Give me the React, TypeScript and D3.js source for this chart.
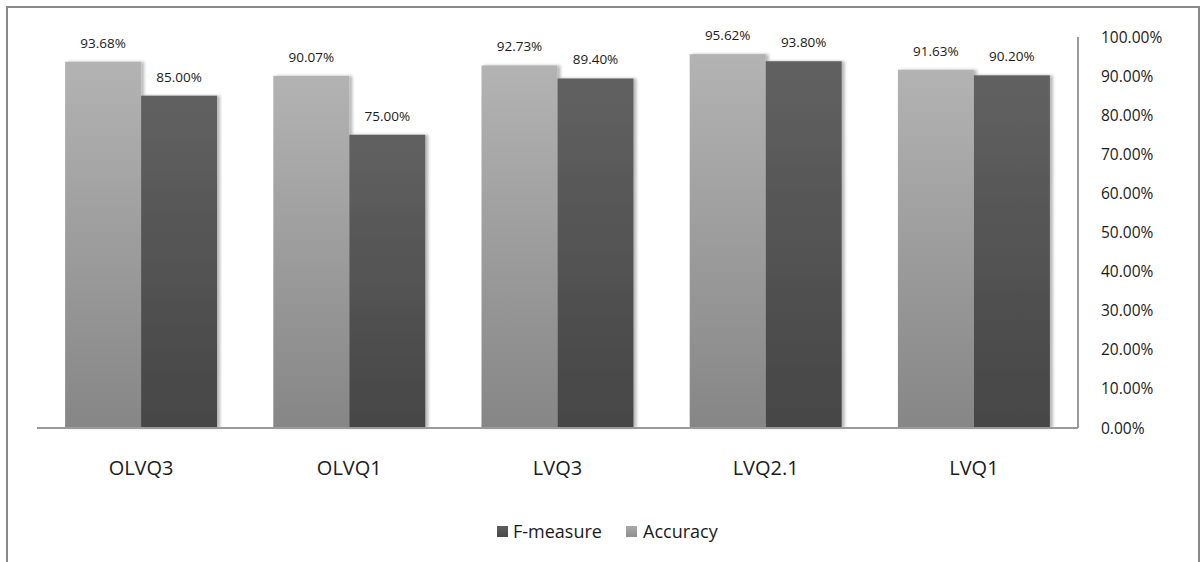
import React from "react";
import * as d3 from "d3";

const categories = ["OLVQ3", "OLVQ1", "LVQ3", "LVQ2.1", "LVQ1"];
const accuracy = [93.68, 90.07, 92.73, 95.62, 91.63];
const fMeasure = [85.0, 75.0, 89.4, 93.8, 90.2];
const yTicks = [0, 10, 20, 30, 40, 50, 60, 70, 80, 90, 100];

const series = [
  { key: "Accuracy", values: accuracy, grad: "gradAcc", top: "#b3b3b3", bottom: "#868686", legendTop: "#aaaaaa", legendBottom: "#8e8e8e" },
  { key: "F-measure", values: fMeasure, grad: "gradF", top: "#616161", bottom: "#464646", legendTop: "#5e5e5e", legendBottom: "#474747" },
];
const legendOrder = ["F-measure", "Accuracy"];

const W = 1203;
const H = 562;
const FONT = "'Open Sans', 'Liberation Sans', sans-serif";

export default function App() {
  const plotLeft = 37;
  const plotRight = 1078;
  const y = d3.scaleLinear().domain([0, 100]).range([428, 37]);
  const x0 = d3
    .scaleBand<string>()
    .domain(categories)
    .range([plotLeft, plotRight])
    .paddingInner(0.27)
    .paddingOuter(0.135);
  const x1 = d3
    .scaleBand<string>()
    .domain(series.map((s) => s.key))
    .range([0, x0.bandwidth()])
    .padding(0);

  const fmt = (v: number) => d3.format(".2f")(v) + "%";

  const legendItems = [
    { key: "F-measure", x: 497, textX: 513 },
    { key: "Accuracy", x: 626, textX: 643 },
  ];

  return (
    <svg
      width={W}
      height={H}
      style={{ position: "absolute", left: 0, top: 0, display: "block", background: "#fff" }}
      fontFamily={FONT}
    >
      <defs>
        {series.map((s) => (
          <linearGradient key={s.grad} id={s.grad} x1="0" y1="0" x2="0" y2="1">
            <stop offset="0%" stopColor={s.top} />
            <stop offset="100%" stopColor={s.bottom} />
          </linearGradient>
        ))}
        {series.map((s) => (
          <linearGradient key={s.grad + "L"} id={s.grad + "L"} x1="0" y1="0" x2="0" y2="1">
            <stop offset="0%" stopColor={s.legendTop} />
            <stop offset="100%" stopColor={s.legendBottom} />
          </linearGradient>
        ))}
        <filter id="barShadow" x="-10%" y="-5%" width="130%" height="110%">
          <feDropShadow dx="3" dy="0" stdDeviation="1.8" floodColor="#000" floodOpacity="0.28" />
        </filter>
      </defs>

      {/* chart frame */}
      <rect x={7} y={7} width={1192} height={H + 10} fill="none" stroke="#8a8a8a" strokeWidth={2} />

      {/* bars */}
      {categories.map((c, i) => (
        <g key={c} transform={`translate(${x0(c)},0)`}>
          {series.map((s) => {
            const v = s.values[i];
            const bx = x1(s.key)!;
            return (
              <rect
                key={s.key}
                x={bx}
                y={y(v)}
                width={x1.bandwidth()}
                height={y(0) - y(v)}
                fill={`url(#${s.grad})`}
                filter="url(#barShadow)"
              />
            );
          })}
        </g>
      ))}

      {/* data labels */}
      {categories.map((c, i) => (
        <g key={c + "lbl"} transform={`translate(${x0(c)},0)`}>
          {series.map((s) => {
            const v = s.values[i];
            return (
              <text
                key={s.key}
                x={x1(s.key)! + x1.bandwidth() / 2}
                y={y(v) - 14}
                textAnchor="middle"
                fontSize={13.5}
                fill="#1a1a1a"
              >
                {fmt(v)}
              </text>
            );
          })}
        </g>
      ))}

      {/* baseline and right-hand value axis */}
      <line x1={plotLeft} x2={plotRight} y1={y(0)} y2={y(0)} stroke="#9a9a9a" strokeWidth={2} />
      <line x1={plotRight} x2={plotRight} y1={y(100)} y2={y(0)} stroke="#9a9a9a" strokeWidth={2} />

      {yTicks.map((t) => (
        <text
          key={t}
          x={1101}
          y={y(t)}
          dy="0.36em"
          fontSize={15.5}
          fill="#1a1a1a"
        >
          {fmt(t)}
        </text>
      ))}

      {/* category labels */}
      {categories.map((c) => (
        <text
          key={c + "cat"}
          x={x0(c)! + x0.bandwidth() / 2}
          y={475}
          textAnchor="middle"
          fontSize={20}
          fill="#1a1a1a"
        >
          {c}
        </text>
      ))}

      {/* legend */}
      {legendItems.map((l) => {
        const s = series.find((d) => d.key === l.key)!;
        return (
          <g key={l.key}>
            <rect x={l.x} y={526} width={11} height={11} fill={`url(#${s.grad}L)`} />
            <text x={l.textX} y={538} fontSize={18} fill="#1a1a1a">
              {l.key}
            </text>
          </g>
        );
      })}
    </svg>
  );
}
